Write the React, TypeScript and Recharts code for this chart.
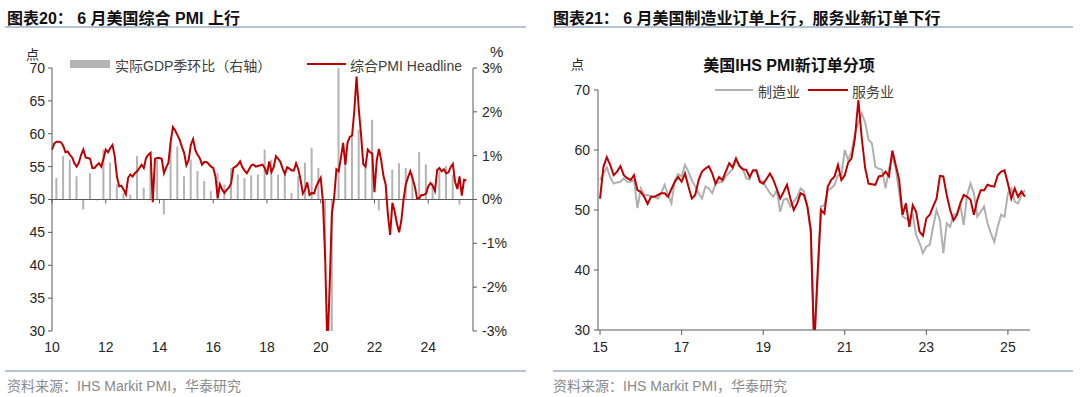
import React from 'react';
import { ComposedChart, LineChart, Line, Bar, XAxis, YAxis, ReferenceLine, Legend } from 'recharts';

const FONT = '"Liberation Sans", Arial, "Noto Sans CJK SC", sans-serif';
const RED = '#c00000';
const GREY_BAR = '#b4b4b4';
const GREY_LINE = '#b0b0b0';
const AXIS = '#5a5a5a';
const TEXT = '#262626';

// 图表20: monthly from 2010-01
const COMPOSITE_PMI = [
  57.6, 58.5, 58.8, 58.8, 58.7, 58.2, 57.2, 57.3, 56.8, 56.4, 55.5, 55.0,
  55.6, 56.8, 57.6, 56.4, 56.3, 56.2, 54.8, 54.8, 55.2, 55.5, 55.0, 56.2,
  57.6, 57.2, 57.8, 58.3, 56.6, 53.5, 52.0, 52.1, 51.5, 50.8, 53.3, 53.8,
  53.5, 54.0, 54.3, 54.8, 55.3, 54.8, 56.3, 56.8, 57.1, 49.6, 56.2, 56.3,
  56.3, 56.2, 54.0, 54.9, 55.6, 58.8, 61.0, 60.5, 59.8, 59.1, 58.0, 57.1,
  55.2, 56.0, 58.3, 59.2, 57.5, 56.8, 56.3, 55.3, 55.7, 55.7, 55.4, 55.0,
  54.8, 53.5, 50.2, 52.3, 51.5, 51.0, 51.5, 51.8, 52.5, 54.8, 55.0, 55.3,
  55.8, 54.9, 54.4, 54.0, 54.6, 55.2, 55.3, 55.0, 55.1, 55.2, 55.3, 54.8,
  53.8, 55.8, 54.2, 54.9, 56.6, 56.2, 55.7, 54.7, 53.9, 54.9, 54.7, 54.4,
  54.4, 55.5, 54.6, 53.0, 50.9, 51.5, 52.6, 50.7, 51.0, 50.9, 52.0, 52.7,
  53.3, 49.6, 40.9, 27.0, 37.0, 47.9, 50.3, 54.6, 54.3, 56.3, 58.6, 55.3,
  58.7, 59.5, 59.7, 63.5, 68.7, 63.7, 59.9, 55.4, 55.0, 57.6, 57.2, 57.0,
  51.1, 55.9, 57.7, 56.0, 53.6, 52.3, 47.7, 44.6, 49.5, 48.2, 46.4, 45.0,
  46.8, 50.1, 52.3, 53.4, 54.3, 53.2, 52.0, 50.2, 50.2, 50.7, 50.7, 50.9,
  52.0, 52.5, 52.1, 51.3, 54.5, 54.8, 54.3, 54.6, 54.0, 54.1, 54.9, 55.4,
  52.7, 51.6, 53.5, 50.6, 53.0, 52.9,
];

// 实际GDP季环比, quarterly from 2010Q1 (%)
const GDP_QOQ = [
  0.49, 0.99, 0.91, 0.53,
  -0.23, 0.6, -0.02, 1.14,
  0.84, 0.35, 0.15, 0.11,
  0.99, 0.27, 0.8, 0.91,
  -0.34, 1.29, 1.21, 0.53,
  0.91, 0.65, 0.42, 0.19,
  0.61, 0.34, 0.72, 0.57,
  0.49, 0.55, 0.57, 1.14,
  0.91, 0.57, 0.57, 0.15,
  0.53, 0.84, 1.18, 0.72,
  -1.4, -7.9, 7.8, 1.0,
  1.41, 1.59, 0.8, 1.82,
  -0.25, 0.07, 0.68, 0.83,
  0.72, 0.6, 1.08, 0.8,
  0.38, 0.72, 0.76, 0.57,
  -0.12,
];

const LEFT_YEARS = ['10', '12', '14', '16', '18', '20', '22', '24'];
const LEFT_PMI_TICKS = [30, 35, 40, 45, 50, 55, 60, 65, 70];
const LEFT_PCT_TICKS = [-3, -2, -1, 0, 1, 2, 3];

// 图表21: monthly from 2015-01
const MFG_NEW_ORDERS = [
  55.0, 56.1, 57.1, 55.5, 54.4, 54.6, 54.7, 55.3, 54.7, 54.7, 55.0, 50.3,
  53.6, 52.5, 52.5, 52.3, 52.2, 51.9, 52.8, 54.2, 52.5, 51.1, 55.0, 56.0,
  55.6, 57.5, 56.4, 55.0, 53.9, 52.8, 51.9, 53.9, 53.6, 52.8, 54.4, 54.6,
  54.7, 55.6, 56.2, 56.8, 58.3, 57.5, 56.9, 55.3, 55.1, 56.7, 56.7, 55.0,
  54.7, 53.7, 52.8, 52.2, 53.3, 49.7, 51.7, 51.9, 50.6, 51.4, 52.2, 53.6,
  53.1, 50.6, 46.1, 28.0, 38.0, 50.6, 50.8, 53.3, 53.6, 54.2, 55.8, 55.8,
  60.0, 58.3, 59.7, 62.8, 64.5, 66.1, 64.6, 61.7, 61.1, 57.2, 56.9, 56.7,
  53.6, 56.9, 58.9, 56.9, 53.0, 48.9, 48.6, 48.3, 49.2, 45.8, 44.5, 42.8,
  43.9, 44.2, 47.2, 50.0, 48.3, 42.8, 47.8, 47.2, 49.2, 49.4, 50.8, 47.5,
  52.5, 54.4, 52.8, 48.9, 49.7, 50.6, 47.8, 46.1, 44.7, 47.2, 49.2, 48.9,
  52.8, 53.6, 51.4, 51.1, 52.5, 53.3,
];

const SVC_NEW_ORDERS = [
  51.9, 57.2, 58.8, 57.5, 55.8, 56.4, 57.3, 55.8, 55.3, 55.0, 55.8, 53.3,
  53.0, 52.2, 51.0, 52.2, 52.2, 52.5, 52.8, 52.8, 52.2, 53.5, 54.7, 55.5,
  54.7, 56.1, 53.9, 51.9, 52.5, 55.0, 56.4, 56.9, 57.3, 56.1, 54.4, 55.5,
  55.0, 56.4, 57.8, 57.1, 58.6, 57.3, 56.8, 56.7, 55.5, 56.6, 56.6, 54.7,
  54.4, 55.2, 56.1, 55.0, 53.5, 51.9, 53.0, 54.2, 51.9, 50.0, 51.1, 52.8,
  52.5, 50.6, 46.7, 27.0, 39.4, 50.0, 49.4, 53.9, 55.0, 55.6, 57.5, 55.0,
  55.8, 57.9, 58.6, 62.0, 68.3, 62.0, 57.0, 54.4, 54.3, 54.2, 55.6, 55.7,
  56.4, 55.6, 59.9, 57.5, 55.0, 49.2, 51.1, 47.2, 50.8, 49.7, 46.4, 45.7,
  48.6, 49.2, 50.6, 51.9, 55.7, 55.6, 52.5, 50.0, 48.3, 49.2, 51.1, 52.5,
  52.2, 51.7, 49.2, 51.7, 53.3, 53.3, 54.2, 54.0, 53.9, 55.8, 56.4, 56.6,
  54.4, 51.9, 53.6, 52.2, 53.1, 52.2,
];

const RIGHT_YEARS = ['15', '17', '19', '21', '23', '25'];
const NEW_ORDER_TICKS = [30, 40, 50, 60, 70];

const leftData = COMPOSITE_PMI.map((v, i) => ({
  t: i,
  pmi: v,
  gdp: i % 3 === 2 && GDP_QOQ[(i - 2) / 3] !== undefined ? GDP_QOQ[(i - 2) / 3] : null,
}));
const leftTicks = LEFT_YEARS.map((y) => (Number(y) - 10) * 12);

const rightData = MFG_NEW_ORDERS.map((v, i) => ({ t: i, mfg: v, svc: SVC_NEW_ORDERS[i] }));
const rightTicks = RIGHT_YEARS.map((y) => (Number(y) - 15) * 12);

const tickStyle = { fontSize: 14, fill: TEXT, fontFamily: FONT };
const yearLabel = (t: number, base: number) => String(base + t / 12);

const LeftLegend = () => (
  <div style={{ position: 'relative', height: 18, width: 540, fontFamily: FONT, fontSize: 14, color: '#404040' }}>
    <div style={{ position: 'absolute', left: 70, top: 5, width: 40, height: 8, background: GREY_BAR }} />
    <span style={{ position: 'absolute', left: 115, top: 0, whiteSpace: 'nowrap' }}>实际GDP季环比（右轴）</span>
    <div style={{ position: 'absolute', left: 307, top: 8, width: 39, height: 2, background: RED }} />
    <span style={{ position: 'absolute', left: 350, top: 0, whiteSpace: 'nowrap' }}>综合PMI Headline</span>
  </div>
);

const RightLegend = () => (
  <div style={{ position: 'relative', height: 18, width: 540, fontFamily: FONT, fontSize: 14, color: '#404040' }}>
    <div style={{ position: 'absolute', left: 175, top: 8, width: 38, height: 2, background: GREY_LINE }} />
    <span style={{ position: 'absolute', left: 218, top: 0, whiteSpace: 'nowrap' }}>制造业</span>
    <div style={{ position: 'absolute', left: 268, top: 8, width: 40, height: 2, background: RED }} />
    <span style={{ position: 'absolute', left: 312, top: 0, whiteSpace: 'nowrap' }}>服务业</span>
  </div>
);

const abs = (left: number, top: number, extra: React.CSSProperties = {}): React.CSSProperties => ({
  position: 'absolute',
  left,
  top,
  fontFamily: FONT,
  whiteSpace: 'nowrap',
  ...extra,
});

const App: React.FC = () => {
  return (
    <div style={{ position: 'absolute', left: 0, top: 0, width: 1080, height: 397, background: '#fff', overflow: 'hidden' }}>
      {/* headers */}
      <div style={abs(7, 5, { fontSize: 16, fontWeight: 700, color: '#111' })}>图表20： 6 月美国综合 PMI 上行</div>
      <div style={abs(553, 5, { fontSize: 16, fontWeight: 700, color: '#111' })}>图表21： 6 月美国制造业订单上行，服务业新订单下行</div>
      <div style={abs(5, 26, { width: 521, height: 2, background: '#b3c3d6' })} />
      <div style={abs(553, 26, { width: 520, height: 2, background: '#b3c3d6' })} />

      {/* left chart */}
      <div style={abs(0, 0, { width: 540, height: 397 })}>
        <ComposedChart width={540} height={397} data={leftData} margin={{ top: 68, right: 22, bottom: 36, left: 12 }}>
          <XAxis
            type="number"
            dataKey="t"
            domain={[0, 188]}
            ticks={leftTicks}
            tickFormatter={(t) => yearLabel(t, 10)}
            axisLine={false}
            tickLine={false}
            tickSize={6}
            tickMargin={5}
            height={30}
            tick={tickStyle}
            interval={0}
          />
          <YAxis
            yAxisId="l"
            domain={[30, 70]}
            ticks={LEFT_PMI_TICKS}
            allowDataOverflow
            width={40}
            stroke={AXIS}
            tickSize={4}
            tickMargin={3}
            tick={tickStyle}
            interval={0}
          />
          <YAxis
            yAxisId="r"
            orientation="right"
            domain={[-3, 3]}
            ticks={LEFT_PCT_TICKS}
            tickFormatter={(v) => `${v}%`}
            allowDataOverflow
            width={45}
            stroke={AXIS}
            tickSize={4}
            tickMargin={5}
            tick={tickStyle}
            interval={0}
          />
          <ReferenceLine yAxisId="l" y={50} stroke={AXIS} strokeWidth={1} />
          {leftTicks.map((t) => (
            <ReferenceLine
              key={t}
              yAxisId="l"
              segment={[{ x: t, y: 50 }, { x: t, y: 49.4 }]}
              stroke={AXIS}
            />
          ))}
          <Bar yAxisId="r" dataKey="gdp" fill={GREY_BAR} barSize={5} isAnimationActive={false} />
          <Line
            yAxisId="l"
            type="linear"
            dataKey="pmi"
            stroke={RED}
            strokeWidth={2}
            dot={false}
            isAnimationActive={false}
          />
          <Legend
            layout="horizontal"
            verticalAlign="middle"
            align="center"
            content={() => <LeftLegend />}
            wrapperStyle={{ left: 0, top: 55, width: 540, height: 18 }}
          />
        </ComposedChart>
      </div>
      <div style={abs(26, 44, { fontSize: 13, color: TEXT })}>点</div>
      <div style={abs(490, 43, { fontSize: 15, color: TEXT })}>%</div>

      {/* right chart */}
      <div style={abs(540, 0, { width: 540, height: 397 })}>
        <LineChart width={540} height={397} data={rightData} margin={{ top: 90, right: 50, bottom: 37, left: 18 }}>
          <XAxis
            type="number"
            dataKey="t"
            domain={[-0.6, 126.5]}
            ticks={rightTicks}
            tickFormatter={(t) => yearLabel(t, 15)}
            stroke={AXIS}
            tickSize={5}
            tickMargin={7}
            height={30}
            tick={tickStyle}
            interval={0}
          />
          <YAxis
            domain={[30, 70]}
            ticks={NEW_ORDER_TICKS}
            allowDataOverflow
            width={40}
            stroke={AXIS}
            tickSize={4}
            tickMargin={4}
            tick={tickStyle}
            interval={0}
          />
          <Line type="linear" dataKey="mfg" stroke={GREY_LINE} strokeWidth={2} dot={false} isAnimationActive={false} />
          <Line type="linear" dataKey="svc" stroke={RED} strokeWidth={2} dot={false} isAnimationActive={false} />
          <Legend
            layout="horizontal"
            verticalAlign="middle"
            align="center"
            content={() => <RightLegend />}
            wrapperStyle={{ left: 0, top: 81, width: 540, height: 18 }}
          />
        </LineChart>
      </div>
      <div style={abs(571, 54, { fontSize: 13, color: TEXT })}>点</div>
      <div style={abs(689, 52, { width: 200, textAlign: 'center', fontSize: 16, fontWeight: 700, color: '#111' })}>
        美国IHS PMI新订单分项
      </div>

      {/* footers */}
      <div style={abs(5, 370, { width: 521, height: 2, background: '#b3c3d6' })} />
      <div style={abs(553, 370, { width: 520, height: 2, background: '#b3c3d6' })} />
      <div style={abs(7, 375, { fontSize: 14, color: '#8a8a8a' })}>资料来源：IHS Markit PMI，华泰研究</div>
      <div style={abs(553, 375, { fontSize: 14, color: '#8a8a8a' })}>资料来源：IHS Markit PMI，华泰研究</div>
    </div>
  );
};

export default App;
